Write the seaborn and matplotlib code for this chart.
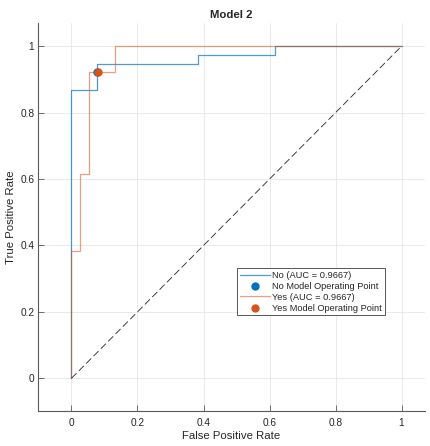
import matplotlib
matplotlib.use("Agg")
import matplotlib.pyplot as plt
import seaborn as sns
import pandas as pd

# ROC curve vertices (FPR, TPR)
no_fpr = [0.0, 0.0, 0.0769, 0.0769, 0.3846, 0.3846, 0.6154, 0.6154, 1.0]
no_tpr = [0.0, 0.8684, 0.8684, 0.9474, 0.9474, 0.9737, 0.9737, 1.0, 1.0]
yes_fpr = [0.0, 0.0, 0.0263, 0.0263, 0.0526, 0.0526, 0.1316, 0.1316, 1.0]
yes_tpr = [0.0, 0.3846, 0.3846, 0.6154, 0.6154, 0.9231, 0.9231, 1.0, 1.0]
no_op = (0.0769, 0.9211)
yes_op = (0.0789, 0.9231)
labels = ["No (AUC = 0.9667)", "No Model Operating Point",
          "Yes (AUC = 0.9667)", "Yes Model Operating Point"]
ticks = [0, 0.2, 0.4, 0.6, 0.8, 1]
tick_labels = ["0", "0.2", "0.4", "0.6", "0.8", "1"]

sns.set_theme(style="white")
plt.rcParams['font.family'] = ['Liberation Sans', 'DejaVu Sans']

blue = "#0072BD"
orange = "#D95319"

fig = plt.figure(figsize=(4.3, 4.46), dpi=100)
ax = fig.add_axes([0.0895, 0.0774, 0.898, 0.871])

df_no = pd.DataFrame({"fpr": no_fpr, "tpr": no_tpr})
df_yes = pd.DataFrame({"fpr": yes_fpr, "tpr": yes_tpr})

sns.lineplot(data=df_no, x="fpr", y="tpr", sort=False, estimator=None,
             color=blue, lw=0.9, alpha=0.7, ax=ax, label=labels[0])
sns.scatterplot(x=[no_op[0]], y=[no_op[1]], color=blue, s=36, edgecolor=blue,
                linewidth=0, ax=ax, label=labels[1], zorder=5)
sns.lineplot(data=df_yes, x="fpr", y="tpr", sort=False, estimator=None,
             color=orange, lw=0.9, alpha=0.55, ax=ax, label=labels[2])
sns.scatterplot(x=[yes_op[0]], y=[yes_op[1]], color=orange, s=36, edgecolor=orange,
                linewidth=0, ax=ax, label=labels[3], zorder=6)
ax.plot([0, 1], [0, 1], color="#222222", lw=0.6, dashes=(8.5, 4))

ax.set_xlim(-0.1, 1.07)
ax.set_ylim(-0.1, 1.07)
ax.set_xticks(ticks)
ax.set_yticks(ticks)
ax.set_xticklabels(tick_labels)
ax.set_yticklabels(tick_labels)
ax.grid(True, color="#e6e6e6", lw=0.6)
ax.set_axisbelow(True)
for s in ["top", "right"]:
    ax.spines[s].set_visible(False)
for s in ["left", "bottom"]:
    ax.spines[s].set_color("#5a5a5a")
    ax.spines[s].set_linewidth(0.8)
ax.tick_params(direction="in", length=4, width=0.6, color="#5a5a5a",
               labelsize=7.3, labelcolor="#262626", left=True, bottom=True)
ax.tick_params(axis="y", pad=3)
ax.tick_params(axis="x", pad=4.5)
ax.set_xlabel("False Positive Rate", fontsize=8.2, color="#262626", labelpad=2)
ax.set_ylabel("True Positive Rate", fontsize=8.2, color="#262626", labelpad=3)
ax.set_title("Model 2", fontsize=8.2, fontweight="bold", pad=3.5)

leg = ax.legend(loc="upper left", bbox_to_anchor=(0.514, 0.369), fontsize=6.7,
                frameon=True, fancybox=False, framealpha=1, edgecolor="#3a3a3a",
                borderpad=0.3, labelspacing=0.2, handlelength=3.2,
                handletextpad=0.3, borderaxespad=0)
leg.get_frame().set_linewidth(0.6)

fig.savefig("out.png", dpi=100)
